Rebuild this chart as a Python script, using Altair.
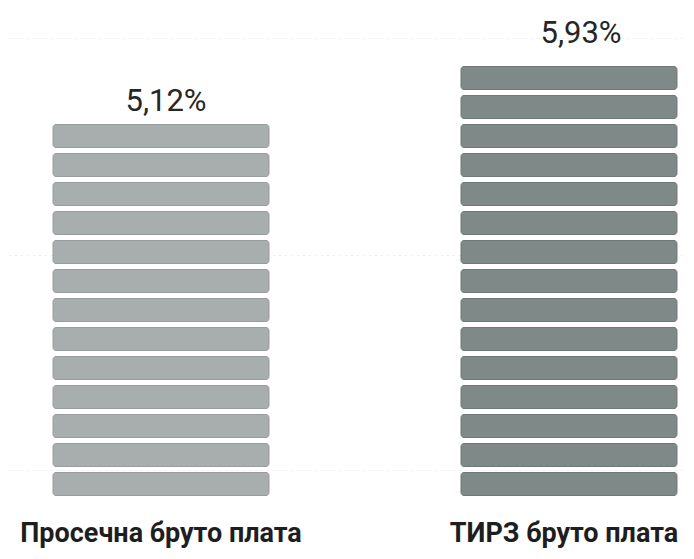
import altair as alt
import pandas as pd

# ---- data ----
categories = ["Просечна бруто плата", "ТИРЗ бруто плата"]
values = [5.12, 5.93]
value_labels = ["5,12%", "5,93%"]
segments = [13, 15]          # number of stacked blocks in each column
grid_values = [0.88, 8.29, 15.78]   # faint background lines of the scan

rows = []
for cat, n in zip(categories, segments):
    for i in range(n):
        rows.append({"cat": cat, "seg": i})
seg_df = pd.DataFrame(rows)

lab_df = pd.DataFrame({
    "cat": categories,
    "value": values,
    "label": value_labels,
    "n": segments,
})

PITCH = 29.0
SEG_H = 23.0
H = 511
W = 678
BOTTOM_PX = 487.5

x_scale = alt.Scale(domain=categories, range=[0, 714],
                    paddingInner=0.4706, paddingOuter=0.1103)
y_scale = alt.Scale(domain=[-(H - BOTTOM_PX) / PITCH, BOTTOM_PX / PITCH],
                    zero=False, nice=False)

fill_scale = alt.Scale(domain=categories, range=["#a8adad", "#7f8987"])
stroke_scale = alt.Scale(domain=categories, range=["#989e9d", "#6f7977"])

bars = alt.Chart(seg_df).transform_calculate(
    top=f"datum.seg + {SEG_H / PITCH}"
).mark_bar(cornerRadius=3, strokeWidth=1).encode(
    x=alt.X("cat:N", scale=x_scale, sort=categories, title=None,
            axis=alt.Axis(orient="bottom", domain=False, ticks=False,
                          labelAngle=0, labelFont="Roboto",
                          labelFontSize=27, labelFontWeight="bold",
                          labelColor="#1e1e1e", labelBaseline="alphabetic",
                          labelPadding=22, labelLimit=0, grid=False,
                          labelOffset=alt.ExprRef(
                              "datum.value == 'ТИРЗ бруто плата' ? -5 : 0"))),
    y=alt.Y("seg:Q", scale=y_scale, title=None,
            axis=alt.Axis(values=grid_values, labels=False, ticks=False,
                          domain=False, grid=True, gridColor="#f1f1f1",
                          gridDash=[3, 3])),
    y2="top:Q",
    fill=alt.Fill("cat:N", scale=fill_scale, legend=None),
    stroke=alt.Stroke("cat:N", scale=stroke_scale, legend=None),
)

def value_text(cat, dx, dy):
    return alt.Chart(lab_df).transform_filter(
        alt.datum.cat == cat
    ).transform_calculate(
        top=f"datum.n - 1 + {SEG_H / PITCH}"
    ).mark_text(font="Roboto", fontSize=31, fontWeight="normal",
                color="#262626", align="center", baseline="alphabetic",
                dx=dx, dy=dy).encode(
        x=alt.X("cat:N", scale=x_scale, sort=categories),
        y=alt.Y("top:Q", scale=y_scale),
        text="label:N",
    )

t1 = value_text(categories[0], 5, -14)
t2 = value_text(categories[1], 12, -24)

chart = alt.layer(bars, t1, t2).properties(
    width=W, height=H,
    autosize=alt.AutoSizeParams(type="none"),
    padding={"left": 0, "top": 0, "right": 0, "bottom": 40},
    background="white",
).configure_view(strokeWidth=0, strokeOpacity=0)

chart.save("out.html", embed_options={"renderer": "svg", "actions": False})
